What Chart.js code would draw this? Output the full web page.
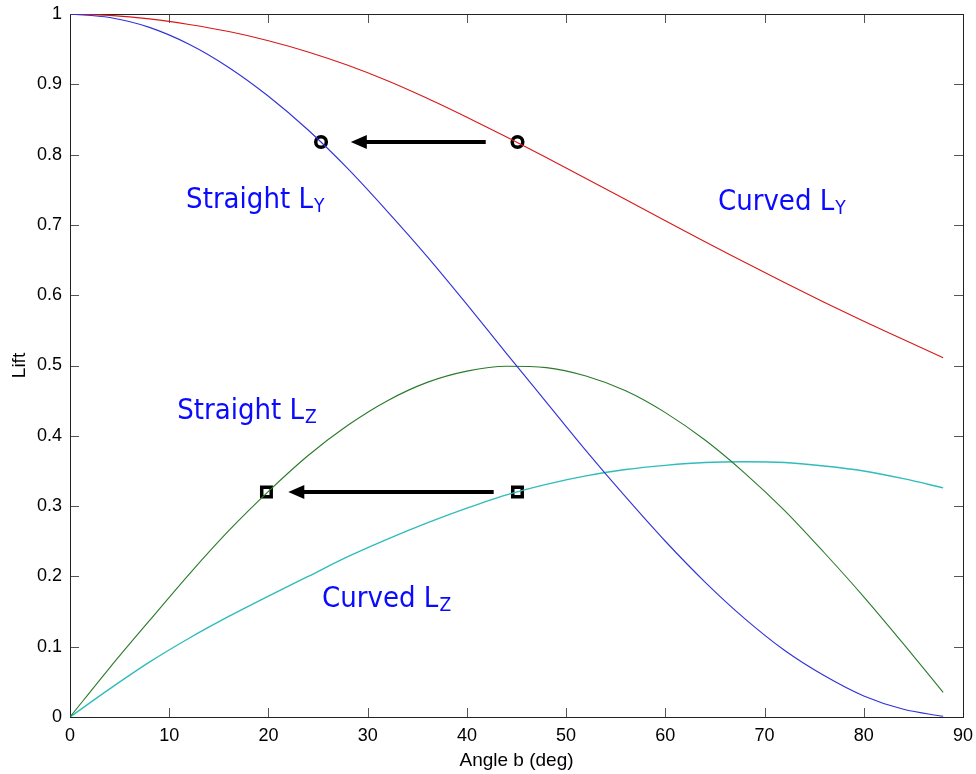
<!DOCTYPE html>
<html>
<head>
<meta charset="utf-8">
<script src="https://cdn.jsdelivr.net/npm/chart.js@4/dist/chart.umd.min.js"></script>
<style>
  html, body { margin: 0; padding: 0; background: #fff; }
</style>
</head>
<body>
<canvas id="chart" width="976" height="774"></canvas>
<script>
const angles = [0, 4, 8, 12, 16, 20, 24, 28, 32, 36, 40, 44, 48, 52, 56, 60, 64, 68, 72, 76, 80, 84, 88];

const straightLy = [1.000, 0.995, 0.981, 0.957, 0.924, 0.883, 0.835, 0.780, 0.719, 0.655, 0.587, 0.517,
    0.448, 0.379, 0.313, 0.250, 0.192, 0.140, 0.095, 0.059, 0.030, 0.011, 0.001];
const curvedLy = [1.000, 0.998, 0.993, 0.985, 0.975, 0.962, 0.946, 0.927, 0.905, 0.880, 0.853, 0.825,
    0.796, 0.766, 0.736, 0.706, 0.676, 0.647, 0.618, 0.590, 0.563, 0.537, 0.511];
const straightLz = [0.000, 0.070, 0.137, 0.203, 0.265, 0.321, 0.372, 0.415, 0.450, 0.476, 0.492, 0.499,
    0.497, 0.485, 0.464, 0.433, 0.394, 0.347, 0.294, 0.234, 0.171, 0.104, 0.035];
const curvedLz = [0.000, 0.040, 0.078, 0.112, 0.143, 0.172, 0.200, 0.228, 0.253, 0.276, 0.297, 0.316,
    0.331, 0.343, 0.352, 0.358, 0.362, 0.363, 0.362, 0.357, 0.350, 0.339, 0.326];

// marked points and the arrows between them
const circleX = [25.3, 45.1];
const circleY = [0.818, 0.818];
const squareX = [19.8, 45.1];
const squareY = [0.320, 0.320];
const arrowFromX = [41.9, 42.7];
const arrowToX = [28.3, 22.0];
const arrowY = [0.818, 0.320];

// curve names written on the plot
const labelText = ["Straight L", "Curved L", "Straight L", "Curved L"];
const labelSub = ["Y", "Y", "Z", "Z"];
const labelX = [11.7, 65.3, 10.8, 25.4];
const labelY = [0.724, 0.721, 0.424, 0.156];

const xTicks = [10, 20, 30, 40, 50, 60, 70, 80];
const yTicks = [0.1, 0.2, 0.3, 0.4, 0.5, 0.6, 0.7, 0.8, 0.9];

const toPoints = (ys) => angles.map((a, i) => ({ x: a, y: ys[i] }));
const zip = (xs, ys) => xs.map((v, i) => ({ x: v, y: ys[i] }));

// no extra room for overhanging tick labels, the layout padding decides
const noOverhang = (s) => {
    s.paddingTop = 0;
    s.paddingBottom = 0;
    s.paddingLeft = 0;
    s.paddingRight = 0;
};

const frame = {
    id: "frame",
    beforeDatasetsDraw(chart) {
        const { ctx, chartArea: a, scales: { x, y } } = chart;
        ctx.save();
        ctx.strokeStyle = "#555";
        ctx.lineWidth = 1;
        ctx.beginPath();
        xTicks.forEach((v) => {
            const px = Math.round(x.getPixelForValue(v)) + 0.5;
            ctx.moveTo(px, a.bottom);
            ctx.lineTo(px, a.bottom - 9);
            ctx.moveTo(px, a.top);
            ctx.lineTo(px, a.top + 9);
        });
        yTicks.forEach((v) => {
            const py = Math.round(y.getPixelForValue(v)) + 0.5;
            ctx.moveTo(a.left, py);
            ctx.lineTo(a.left + 9, py);
            ctx.moveTo(a.right, py);
            ctx.lineTo(a.right - 9, py);
        });
        ctx.stroke();
        ctx.strokeStyle = "#222";
        ctx.strokeRect(Math.round(a.left) + 0.5, Math.round(a.top) + 0.5,
            Math.round(a.right - a.left), Math.round(a.bottom - a.top));
        ctx.restore();
    },
    afterDatasetsDraw(chart) {
        const { ctx, scales: { x, y } } = chart;
        ctx.save();
        // arrows
        ctx.fillStyle = "#000";
        ctx.strokeStyle = "#000";
        ctx.lineWidth = 4;
        arrowY.forEach((v, i) => {
            const py = y.getPixelForValue(v);
            const x0 = x.getPixelForValue(arrowFromX[i]);
            const x1 = x.getPixelForValue(arrowToX[i]);
            ctx.beginPath();
            ctx.moveTo(x0, py);
            ctx.lineTo(x1 + 12, py);
            ctx.stroke();
            ctx.beginPath();
            ctx.moveTo(x1, py);
            ctx.lineTo(x1 + 16, py - 7);
            ctx.lineTo(x1 + 16, py + 7);
            ctx.closePath();
            ctx.fill();
        });
        // curve labels with subscripts
        ctx.fillStyle = "#0a0aff";
        ctx.textBaseline = "alphabetic";
        ctx.textAlign = "left";
        labelText.forEach((t, i) => {
            const px = x.getPixelForValue(labelX[i]);
            const py = y.getPixelForValue(labelY[i]);
            ctx.font = "29px 'DejaVu Sans Condensed', 'DejaVu Sans'";
            ctx.fillText(t, px, py);
            const w = ctx.measureText(t).width;
            ctx.font = "19px 'DejaVu Sans Condensed', 'DejaVu Sans'";
            ctx.fillText(labelSub[i], px + w + 1, py + 4);
        });
        ctx.restore();
    },
};

const tickFont = { family: "'Liberation Sans', Arial, sans-serif", size: 18 };
const titleFont = { family: "'Liberation Sans', Arial, sans-serif", size: 19 };

new Chart(document.getElementById("chart"), {
    type: "line",
    data: {
        datasets: [
            { label: "Straight LY", data: toPoints(straightLy), borderColor: "#3030d8", borderWidth: 1.1 },
            { label: "Curved LY", data: toPoints(curvedLy), borderColor: "#d81818", borderWidth: 1.1 },
            { label: "Straight LZ", data: toPoints(straightLz), borderColor: "#2a7a2a", borderWidth: 1.1 },
            { label: "Curved LZ", data: toPoints(curvedLz), borderColor: "#30bcbc", borderWidth: 1.4 },
            {
                label: "circles", data: zip(circleX, circleY), showLine: false,
                pointStyle: "circle", pointRadius: 5.3, pointBorderWidth: 3.5,
                pointBorderColor: "#000", pointBackgroundColor: "#fff",
            },
            {
                label: "squares", data: zip(squareX, squareY), showLine: false,
                pointStyle: "rect", pointRadius: 6.7, pointBorderWidth: 3.5,
                pointBorderColor: "#000", pointBackgroundColor: "#fff",
            },
        ],
    },
    options: {
        responsive: false,
        animation: false,
        elements: {
            point: { radius: 0 },
            line: { cubicInterpolationMode: "monotone" },
        },
        layout: { padding: { top: 14, right: 13, left: 0, bottom: 0 } },
        plugins: {
            legend: { display: false },
            tooltip: { enabled: false },
        },
        scales: {
            x: {
                type: "linear",
                min: 0,
                max: 90,
                afterFit: (s) => { s.height = 57; noOverhang(s); },
                ticks: { stepSize: 10, font: tickFont, color: "#000", padding: 8, maxRotation: 0 },
                grid: { display: false, drawTicks: false },
                border: { display: false },
                title: {
                    display: true, text: "Angle b (deg)", color: "#000", font: titleFont,
                    padding: { top: 0, bottom: 2 },
                },
            },
            y: {
                min: 0,
                max: 1,
                afterFit: (s) => { s.width = 70; noOverhang(s); },
                ticks: {
                    stepSize: 0.1, font: tickFont, color: "#000", padding: 8,
                    callback: (v) => String(Math.round(v * 10) / 10),
                },
                grid: { display: false, drawTicks: false },
                border: { display: false },
                title: {
                    display: true, text: "Lift", color: "#000", font: titleFont,
                    padding: { top: 8, bottom: 0 },
                },
            },
        },
    },
    plugins: [frame],
});
</script>
</body>
</html>
